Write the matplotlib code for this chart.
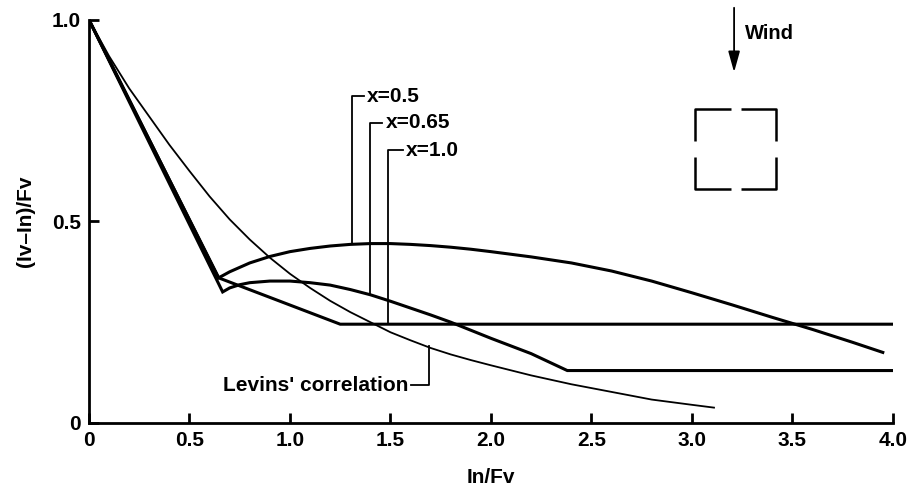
import matplotlib
matplotlib.use('Agg')
import matplotlib.pyplot as plt

plt.rcParams['font.family'] = ['Liberation Sans', 'DejaVu Sans']
plt.rcParams['font.weight'] = 'bold'

# values
levins_x = [0, 0.05, 0.1, 0.2, 0.3, 0.4, 0.5, 0.6, 0.7, 0.8, 0.9, 1.0, 1.1, 1.2, 1.3, 1.4,
            1.5, 1.6, 1.7, 1.8, 1.9, 2.0, 2.2, 2.4, 2.6, 2.8, 3.0, 3.11]
levins_y = [1.0, 0.955, 0.91, 0.83, 0.76, 0.69, 0.625, 0.562, 0.505, 0.455, 0.41, 0.37, 0.335,
            0.303, 0.275, 0.25, 0.225, 0.205, 0.186, 0.17, 0.156, 0.143, 0.118, 0.096, 0.077,
            0.058, 0.045, 0.038]

x05_x = [0, 0.645, 0.7, 0.8, 0.9, 1.0, 1.1, 1.2, 1.3, 1.4, 1.5, 1.6, 1.7, 1.8, 1.9, 2.0,
         2.2, 2.4, 2.6, 2.8, 3.0, 3.2, 3.4, 3.6, 3.8, 3.95]
x05_y = [1.0, 0.36, 0.375, 0.397, 0.413, 0.425, 0.433, 0.439, 0.443, 0.445, 0.445, 0.443,
         0.44, 0.436, 0.431, 0.425, 0.412, 0.397, 0.377, 0.352, 0.323, 0.293, 0.262, 0.232,
         0.2, 0.175]

x065_x = [0, 0.665, 0.7, 0.75, 0.8, 0.9, 1.0, 1.1, 1.2, 1.3, 1.4, 1.5, 1.6, 1.7, 1.8, 2.0,
          2.2, 2.38, 4.0]
x065_y = [1.0, 0.325, 0.335, 0.343, 0.348, 0.352, 0.352, 0.348, 0.342, 0.331, 0.318, 0.302,
          0.285, 0.268, 0.25, 0.21, 0.172, 0.13, 0.13]

x10_x = [0, 0.645, 1.25, 4.0]
x10_y = [1.0, 0.36, 0.245, 0.245]

x_ticks = [0, 0.5, 1.0, 1.5, 2.0, 2.5, 3.0, 3.5, 4.0]
x_ticklabels = ['0', '0.5', '1.0', '1.5', '2.0', '2.5', '3.0', '3.5', '4.0']
y_ticks = [0, 0.5, 1.0]
y_ticklabels = ['0', '0.5', '1.0']

fig = plt.figure(figsize=(9.12, 4.97), dpi=100)
ax = fig.add_axes([0.0976, 0.149, 0.8814, 0.811])

ax.plot(levins_x, levins_y, color='black', lw=1.3)
for xs, ys in [(x05_x, x05_y), (x065_x, x065_y), (x10_x, x10_y)]:
    ax.plot(xs, ys, color='black', lw=2.2, solid_joinstyle='miter')

ax.set_xlim(0, 4.0)
ax.set_ylim(0, 1.0)
ax.spines['top'].set_visible(False)
ax.spines['right'].set_visible(False)
ax.spines['left'].set_linewidth(2)
ax.spines['bottom'].set_linewidth(2)
ax.set_xticks(x_ticks)
ax.set_xticklabels(x_ticklabels)
ax.set_yticks(y_ticks)
ax.set_yticklabels(y_ticklabels)
ax.tick_params(direction='in', length=7, width=2, labelsize=15, pad=6)
ax.set_xlabel('In/Fv', fontsize=15, fontweight='bold', labelpad=13)
ax.set_ylabel('(Iv\u2013In)/Fv', fontsize=15, fontweight='bold', labelpad=12)

# callouts
lk = dict(color='black', lw=1.3)
ax.plot([1.31, 1.31, 1.37], [0.445, 0.81, 0.81], **lk)
ax.text(1.385, 0.81, 'x=0.5', fontsize=15, fontweight='bold', va='center')
ax.plot([1.40, 1.40, 1.46], [0.318, 0.745, 0.745], **lk)
ax.text(1.475, 0.745, 'x=0.65', fontsize=15, fontweight='bold', va='center')
ax.plot([1.49, 1.49, 1.56], [0.245, 0.676, 0.676], **lk)
ax.text(1.575, 0.676, 'x=1.0', fontsize=15, fontweight='bold', va='center')
ax.plot([1.60, 1.69, 1.69], [0.093, 0.093, 0.19], **lk)
ax.text(1.59, 0.093, "Levins' correlation", fontsize=15, fontweight='bold',
        va='center', ha='right')

# wind arrow and building sketch
ax.annotate('', xy=(3.21, 0.87), xytext=(3.21, 1.03), annotation_clip=False,
            arrowprops=dict(arrowstyle='-|>,head_length=0.9,head_width=0.25', color='black',
                            lw=1.3, mutation_scale=14, shrinkA=0, shrinkB=0))
ax.text(3.265, 0.967, 'Wind', fontsize=14.5, fontweight='bold', va='center')

x0, x1, y0, y1 = 3.015, 3.42, 0.58, 0.78
xm, ym = (x0 + x1) / 2, (y0 + y1) / 2
gx, gy = 0.025, 0.02
sq = dict(color='black', lw=1.8, solid_capstyle='butt')
ax.plot([xm - gx, x0, x0], [y1, y1, ym + gy], **sq)
ax.plot([x0, x0, xm - gx], [ym - gy, y0, y0], **sq)
ax.plot([xm + gx, x1, x1], [y1, y1, ym + gy], **sq)
ax.plot([x1, x1, xm + gx], [ym - gy, y0, y0], **sq)

fig.savefig('out.png', dpi=100)
